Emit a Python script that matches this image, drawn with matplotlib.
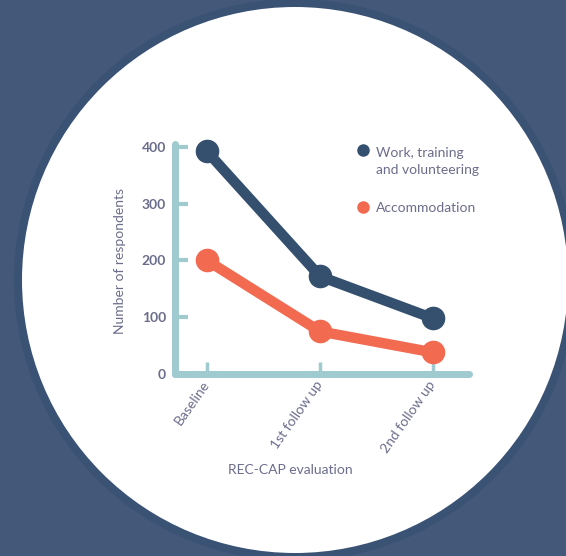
import matplotlib
matplotlib.use("Agg")
import matplotlib.pyplot as plt
from matplotlib.patches import Circle
from matplotlib.lines import Line2D
from matplotlib.legend_handler import HandlerLine2D

# ---- data ----
categories = ["Baseline", "1st follow up", "2nd follow up"]
work_values = [392, 172, 98]
accom_values = [200, 75, 38]
series_names = ["Work, training\nand volunteering", "Accommodation"]
y_ticks = [0, 100, 200, 300, 400]

# ---- style ----
BG = "#44587a"
RING = "#3a5274"
NAVY = "#34506e"
ORANGE = "#f26a50"
TEAL = "#9ecad0"
TEXT = "#6b6d8c"
FONT = ["Lato", "DejaVu Sans"]
plt.rcParams["font.family"] = FONT

W, H = 566, 556
fig = plt.figure(figsize=(W / 100, H / 100), dpi=100, facecolor=BG)

# white disc with darker ring
disc = Circle((295 / 100, (H - 280) / 100), 277 / 100, transform=fig.dpi_scale_trans,
              facecolor="white", edgecolor=RING, linewidth=8 * 0.72, zorder=-5)
fig.patches.append(disc)

# axes placement (pixels)
x0_px, x1_px = 175, 468.5
y0_px, y1_px = 374, 143.5
ax = fig.add_axes([x0_px / W, (H - y0_px) / H, (x1_px - x0_px) / W, (y0_px - y1_px) / H])
ax.set_zorder(1)
ax.patch.set_alpha(0)

xs = list(range(len(categories)))
ax.plot(xs, work_values, color=NAVY, lw=7.5, marker="o", markersize=16,
        solid_capstyle="round", clip_on=False, zorder=3, label=series_names[0])
ax.plot(xs, accom_values, color=ORANGE, lw=7.5, marker="o", markersize=16,
        solid_capstyle="round", clip_on=False, zorder=3, label=series_names[1])

ax.set_xlim(-0.283, 2.314)
ax.set_ylim(0, 406)

for side in ["top", "right"]:
    ax.spines[side].set_visible(False)
for side in ["left", "bottom"]:
    sp = ax.spines[side]
    sp.set_color(TEAL)
    sp.set_linewidth(7 * 0.72)
    sp.set_capstyle("round")
    sp.set_zorder(2)

ax.set_yticks(y_ticks)
ax.set_yticklabels([str(v) for v in y_ticks])
ax.set_xticks(xs)
ax.set_xticklabels(categories, rotation=55, ha="right", va="center", rotation_mode="anchor")

ax.tick_params(axis="y", direction="in", length=9.4, width=3, color=TEAL, pad=6.5,
               labelsize=10, labelcolor=TEXT)
ax.tick_params(axis="x", direction="in", length=8.6, width=2.5, color=TEAL, pad=6,
               labelsize=10, labelcolor=TEXT)
for t in ax.get_yticklabels():
    t.set_fontweight("bold")
# hide tick at y=0 (overlaps axis)
ax.yaxis.get_major_ticks()[0].tick1line.set_visible(False)

fig.text(120 / W, (H - 261) / H, "Number of respondents", rotation=90, ha="center", va="center",
         fontsize=10, color=TEXT)
fig.text(290 / W, (H - 470) / H, "REC-CAP evaluation", ha="center", va="center",
         fontsize=10, color=TEXT)


class FirstLineHandler(HandlerLine2D):
    def __init__(self, shift=0.0, **kw):
        super().__init__(**kw)
        self.shift = shift

    def create_artists(self, legend, orig_handle, xdescent, ydescent, width, height,
                       fontsize, trans):
        arts = super().create_artists(legend, orig_handle, xdescent, ydescent, width,
                                      height, fontsize, trans)
        for a in arts:
            a.set_ydata([y + self.shift * fontsize for y in a.get_ydata()])
        return arts


h1 = Line2D([], [], color=NAVY, marker="o", markersize=8, linestyle="none")
h2 = Line2D([], [], color=ORANGE, marker="o", markersize=8, linestyle="none")
leg = fig.legend([h1, h2], series_names, loc="upper left",
                 bbox_to_anchor=(357 / W, (H - 147) / H), frameon=False,
                 fontsize=10, labelcolor=TEXT, handlelength=0.8, handletextpad=0.6,
                 labelspacing=1.9, borderpad=0, borderaxespad=0,
                 handler_map={h1: FirstLineHandler(shift=0.8)})
for t in leg.get_texts():
    t.set_linespacing(1.45)

fig.savefig("out.png", dpi=100, facecolor=BG)
